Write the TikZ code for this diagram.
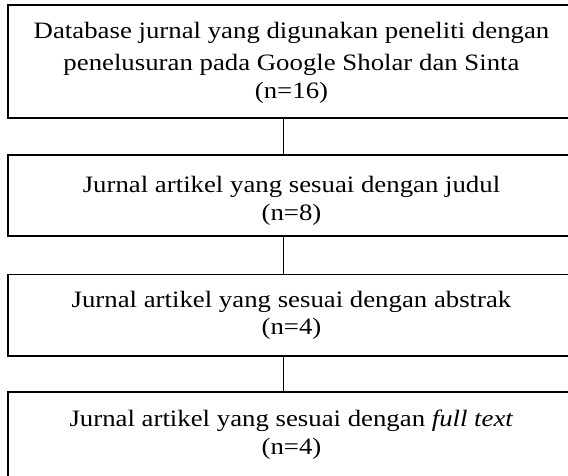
\documentclass[tikz,border=0pt]{standalone}
\usepackage{fontspec}
\setmainfont[FakeStretch=1.14]{Liberation Serif}
\begin{document}
\begin{tikzpicture}[x=1pt,y=-1pt,
  box/.style={draw, line width=1.3pt, minimum width=567pt, outer sep=0pt, inner sep=0pt,
    align=center, font=\fontsize{23.5}{27.5}\selectfont},
  link/.style={line width=1.4pt}]
\clip (0,0) rectangle (568,476);
\node[box, minimum height=113pt, text height=80pt, text depth=6.4pt] (b1) at (291.5,61.5)
  {Database jurnal yang digunakan peneliti dengan\\[5pt]penelusuran pada Google Sholar dan Sinta\\(n=16)};
\node[box, minimum height=81pt, text height=55pt, text depth=6pt] (b2) at (291.5,195.5)
  {Jurnal artikel yang sesuai dengan judul\\(n=8)};
\node[box, minimum height=81.5pt, text height=45pt, text depth=6.5pt] (b3) at (291.5,315.25)
  {Jurnal artikel yang sesuai dengan abstrak\\(n=4)};
\node[box, minimum height=86pt, text height=45pt, text depth=6.6pt] (b4) at (291.5,435)
  {Jurnal artikel yang sesuai dengan \textit{full text}\\(n=4)};
\coordinate (cx) at (283.5,0);
\draw[link] (b1.south -| cx) -- (b2.north -| cx);
\draw[link] (b2.south -| cx) -- (b3.north -| cx);
\draw[link] (b3.south -| cx) -- (b4.north -| cx);
\end{tikzpicture}
\end{document}
